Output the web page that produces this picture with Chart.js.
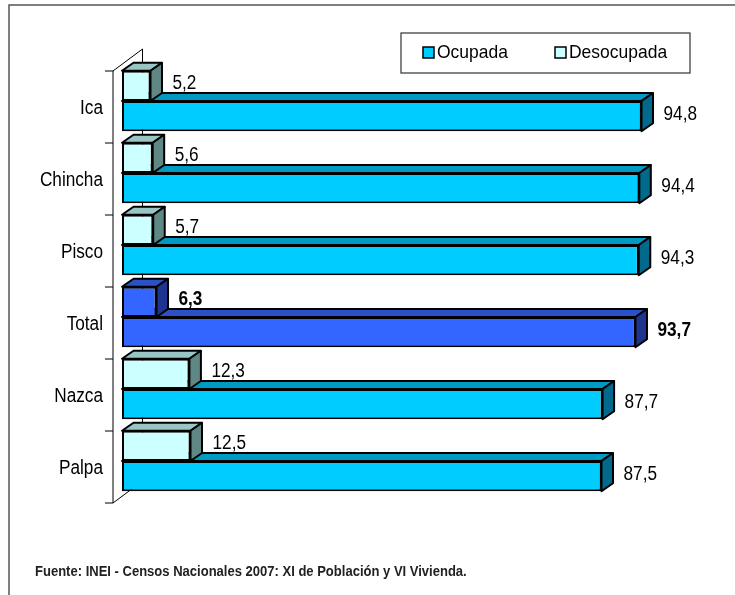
<!DOCTYPE html>
<html lang="es">
<head>
  <meta charset="UTF-8">
  <title>Ocupada / Desocupada por provincia</title>
  <script src="https://cdn.jsdelivr.net/npm/chart.js"></script>
  <style>
    body {
      margin: 0;
      background: white;
    }
    #wrap {
      width: 735px;
      height: 595px;
      position: relative;
    }
  </style>
</head>
<body>
  <div id="wrap">
    <canvas id="myChart" width="735" height="595"></canvas>
  </div>

  <script>
    // data
    const categories = ['Ica', 'Chincha', 'Pisco', 'Total', 'Nazca', 'Palpa'];
    const ocupada = [94.8, 94.4, 94.3, 93.7, 87.7, 87.5];
    const desocupada = [5.2, 5.6, 5.7, 6.3, 12.3, 12.5];
    const seriesNames = ['Ocupada', 'Desocupada'];
    const sourceNote = 'Fuente: INEI - Censos Nacionales 2007: XI de Población y VI Vivienda.';

    const FONT = '"Liberation Sans", Arial, sans-serif';
    const DX = 11.5, DY = -8;   // bar depth
    const totalIdx = categories.indexOf('Total');

    // front / top / side colours
    const pal = {
      ocupada:    { front: '#00CCFF', top: '#0099C4', side: '#00698C' },
      desocupada: { front: '#CCFFFF', top: '#99C6C4', side: '#5F8785' },
      total:      { front: '#3366FF', top: '#2B50C8', side: '#1E3590' }
    };

    function colorsFor(key, part) {
      return categories.map((c, i) => i === totalIdx ? pal.total[part] : pal[key][part]);
    }

    function fmt(v) {
      return v.toFixed(1).replace('.', ',');
    }

    // narrow-looking text: squeeze horizontally
    function narrowText(ctx, txt, x, y, font, sx, align) {
      ctx.save();
      ctx.font = font;
      ctx.textAlign = align || 'left';
      ctx.translate(x, y);
      ctx.scale(sx, 1);
      ctx.fillText(txt, 0, 0);
      ctx.restore();
    }

    function poly(ctx, pts, fill) {
      ctx.beginPath();
      ctx.moveTo(pts[0][0], pts[0][1]);
      for (let i = 1; i < pts.length; i++) ctx.lineTo(pts[i][0], pts[i][1]);
      ctx.closePath();
      ctx.fillStyle = fill;
      ctx.fill();
      ctx.stroke();
    }

    const frame3d = {
      id: 'frame3d',
      beforeDraw(chart) {
        const ctx = chart.ctx;
        ctx.save();
        // outer border (left and top only visible)
        ctx.strokeStyle = '#555';
        ctx.lineWidth = 1.5;
        ctx.beginPath();
        ctx.moveTo(9, 595);
        ctx.lineTo(9, 5);
        ctx.lineTo(735, 5);
        ctx.stroke();
        ctx.restore();
      },
      beforeDatasetsDraw(chart) {
        const ctx = chart.ctx;
        const y = chart.scales.y;
        const n = categories.length;
        const step = (y.bottom - y.top) / n;
        const top = y.top + 6, bot = y.top + 6 + step * n;
        const ax = 113, bx = 142.5, by = -22;
        ctx.save();
        ctx.strokeStyle = '#000';
        ctx.lineWidth = 1;
        ctx.beginPath();
        // front axis line and ticks
        ctx.moveTo(ax, top);
        ctx.lineTo(ax, bot);
        for (let i = 0; i <= n; i++) {
          ctx.moveTo(ax - 8, top + step * i);
          ctx.lineTo(ax, top + step * i);
        }
        // wall depth
        ctx.moveTo(ax, top);
        ctx.lineTo(bx, top + by);
        ctx.lineTo(bx, bot + by);
        ctx.moveTo(ax, bot);
        ctx.lineTo(bx, bot + by);
        ctx.stroke();
        ctx.restore();
      },
      afterDatasetDraw(chart, args) {
        const ctx = chart.ctx;
        const meta = args.meta;
        const key = meta.index === 0 ? 'desocupada' : 'ocupada';
        ctx.save();
        ctx.strokeStyle = '#000';
        ctx.lineWidth = 2;
        ctx.lineJoin = 'round';
        meta.data.forEach((bar, i) => {
          const p = bar.getProps(['x', 'y', 'base', 'height'], true);
          const t = p.y - p.height / 2, b = p.y + p.height / 2;
          const c = i === totalIdx ? pal.total : pal[key];
          poly(ctx, [[p.base, t], [p.x, t], [p.x + DX, t + DY], [p.base + DX, t + DY]], c.top);
          poly(ctx, [[p.x, t], [p.x + DX, t + DY], [p.x + DX, b + DY], [p.x, b]], c.side);
        });
        ctx.restore();
      },
      afterDatasetsDraw(chart) {
        const ctx = chart.ctx;
        ctx.save();
        ctx.fillStyle = '#000';
        ctx.textBaseline = 'middle';
        // value labels
        chart.data.datasets.forEach((ds, di) => {
          chart.getDatasetMeta(di).data.forEach((bar, i) => {
            const p = bar.getProps(['x', 'y'], true);
            const f = (i === totalIdx ? 'bold ' : '') + '20px ' + FONT;
            narrowText(ctx, fmt(ds.data[i]), p.x + 22, p.y - 2, f, 0.86);
          });
        });
        // category labels from the y scale
        const ys = chart.scales.y;
        ys.ticks.forEach((tk, i) => {
          narrowText(ctx, ys.getLabelForValue(tk.value), 103, ys.getPixelForTick(i) + 7,
            '20px ' + FONT, 0.86, 'right');
        });
        ctx.restore();
      },
      afterDraw(chart) {
        const ctx = chart.ctx;
        ctx.save();
        // legend box
        ctx.fillStyle = '#fff';
        ctx.strokeStyle = '#333';
        ctx.lineWidth = 1.2;
        ctx.fillRect(401, 33, 289, 40);
        ctx.strokeRect(401, 33, 289, 40);
        const items = [
          { name: seriesNames[0], color: pal.ocupada.front, x: 423 },
          { name: seriesNames[1], color: pal.desocupada.front, x: 555 }
        ];
        ctx.textBaseline = 'middle';
        items.forEach(it => {
          ctx.fillStyle = it.color;
          ctx.strokeStyle = '#000';
          ctx.lineWidth = 1.5;
          ctx.fillRect(it.x, 47, 11, 11);
          ctx.strokeRect(it.x, 47, 11, 11);
          ctx.fillStyle = '#000';
          narrowText(ctx, it.name, it.x + 14, 53, '19px ' + FONT, 0.92);
        });
        // source note
        ctx.textBaseline = 'alphabetic';
        ctx.fillStyle = '#222';
        narrowText(ctx, sourceNote, 35, 576, 'bold 14px ' + FONT, 0.93);
        ctx.restore();
      }
    };

    const ctx = document.getElementById('myChart').getContext('2d');
    const myChart = new Chart(ctx, {
      type: 'bar',
      data: {
        labels: categories,
        datasets: [
          {
            label: seriesNames[1],
            data: desocupada,
            backgroundColor: colorsFor('desocupada', 'front'),
            borderColor: '#000',
            borderWidth: 2,
            borderSkipped: false,
            categoryPercentage: 0.84,
            barPercentage: 1
          },
          {
            label: seriesNames[0],
            data: ocupada,
            backgroundColor: colorsFor('ocupada', 'front'),
            borderColor: '#000',
            borderWidth: 2,
            borderSkipped: false,
            categoryPercentage: 0.84,
            barPercentage: 1
          }
        ]
      },
      options: {
        indexAxis: 'y',
        responsive: false,
        animation: false,
        devicePixelRatio: 1,
        layout: {
          padding: { top: 65, bottom: 98, left: 0, right: 65 }
        },
        plugins: {
          legend: { display: false },
          tooltip: { enabled: false }
        },
        scales: {
          x: {
            display: false,
            min: 0,
            max: 100
          },
          y: {
            afterFit(scale) { scale.width = 122; },
            grid: { display: false, drawTicks: false },
            border: { display: false },
            ticks: { display: false }
          }
        }
      },
      plugins: [frame3d]
    });
  </script>
</body>
</html>
